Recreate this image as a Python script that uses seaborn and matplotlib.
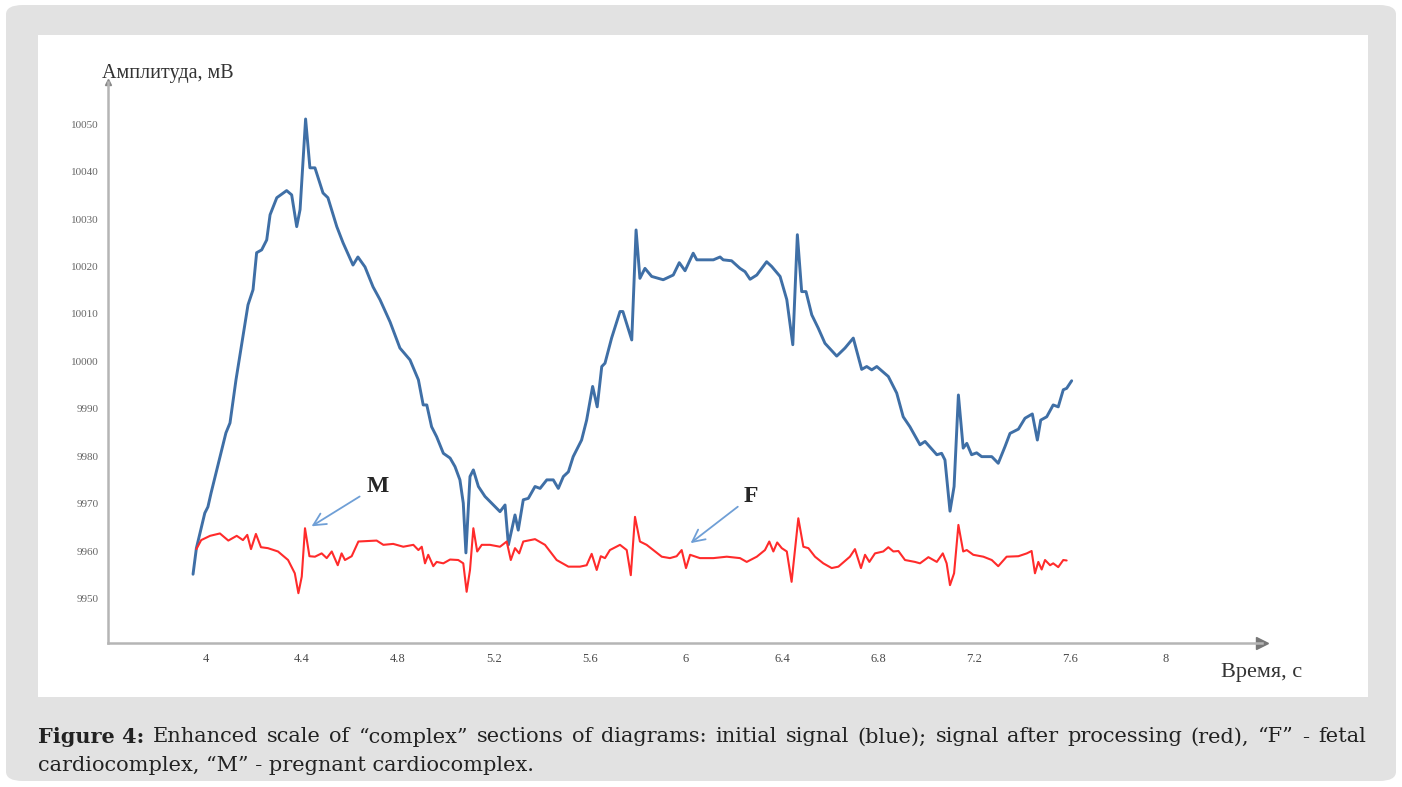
import numpy as np
import pandas as pd
import matplotlib.pyplot as plt
import seaborn as sns
from matplotlib.patches import FancyBboxPatch, Rectangle

# initial signal (blue)
blue_t = [3.946, 3.960, 3.995, 4.008, 4.021, 4.058, 4.083, 4.100, 4.125, 4.175,
          4.196, 4.211, 4.232, 4.253, 4.267, 4.295, 4.336, 4.357, 4.378, 4.392,
          4.415, 4.433, 4.454, 4.4875, 4.508, 4.545, 4.571, 4.6125, 4.633, 4.6625,
          4.696, 4.725, 4.767, 4.808, 4.850, 4.885, 4.905, 4.920, 4.940, 4.961,
          4.989, 5.017, 5.0375, 5.058, 5.072, 5.083, 5.100, 5.114, 5.135, 5.1625,
          5.190, 5.225, 5.246, 5.260, 5.2875, 5.301, 5.322, 5.343, 5.371, 5.392,
          5.420, 5.447, 5.468, 5.489, 5.510, 5.530, 5.565, 5.586, 5.611, 5.630,
          5.649, 5.6625, 5.690, 5.725, 5.737, 5.774, 5.792, 5.808, 5.829, 5.857,
          5.905, 5.947, 5.972, 5.996, 6.030, 6.045, 6.114, 6.142, 6.155, 6.190,
          6.225, 6.246, 6.267, 6.295, 6.336, 6.357, 6.392, 6.420, 6.445, 6.464,
          6.482, 6.500, 6.524, 6.551, 6.579, 6.628, 6.6625, 6.697, 6.732, 6.753,
          6.774, 6.795, 6.843, 6.878, 6.905, 6.933, 6.975, 6.996, 7.045, 7.065,
          7.079, 7.100, 7.117, 7.135, 7.155, 7.170, 7.190, 7.211, 7.232, 7.274,
          7.301, 7.329, 7.350, 7.385, 7.4125, 7.443, 7.464, 7.478, 7.503, 7.530,
          7.551, 7.572, 7.586, 7.607]
blue_v = [9955.1, 9960.6, 9968.0, 9969.3, 9972.2, 9979.8, 9984.9, 9987.0, 9996.1, 10011.9,
          10015.1, 10022.9, 10023.5, 10025.6, 10030.9, 10034.5, 10036.0, 10035.1, 10028.4, 10032.0,
          10051.1, 10040.8, 10040.8, 10035.5, 10034.5, 10028.4, 10025.0, 10020.3, 10022.0, 10019.9,
          10015.7, 10013.0, 10008.3, 10002.8, 10000.3, 9996.1, 9990.8, 9990.8, 9986.2, 9984.1,
          9980.6, 9979.6, 9977.8, 9975.0, 9970.1, 9959.6, 9975.7, 9977.1, 9973.6, 9971.5,
          9970.1, 9968.3, 9969.7, 9961.3, 9967.6, 9964.4, 9970.8, 9971.1, 9973.6, 9973.2,
          9975.0, 9975.0, 9973.2, 9975.7, 9976.7, 9979.9, 9983.4, 9987.6, 9994.7, 9990.4,
          9998.9, 9999.6, 10004.9, 10010.5, 10010.5, 10004.5, 10027.7, 10017.5, 10019.6, 10017.9,
          10017.2, 10018.2, 10020.8, 10019.1, 10022.8, 10021.4, 10021.4, 10022.0, 10021.4, 10021.2,
          10019.6, 10018.9, 10017.3, 10018.2, 10021.0, 10020.0, 10017.9, 10013.0, 10003.5, 10026.7,
          10014.7, 10014.7, 10009.8, 10007.0, 10003.8, 10001.1, 10002.8, 10004.9, 9998.3, 9998.9,
          9998.2, 9998.9, 9996.8, 9993.3, 9988.3, 9986.2, 9982.4, 9983.1, 9980.3, 9980.6,
          9979.2, 9968.4, 9973.6, 9992.9, 9981.7, 9982.7, 9980.3, 9980.7, 9979.9, 9979.9,
          9978.5, 9982.0, 9984.8, 9985.7, 9988.0, 9988.9, 9983.4, 9987.6, 9988.3, 9990.8,
          9990.4, 9994.0, 9994.3, 9995.9]

# signal after processing (red)
red_t = [3.960, 3.980, 3.996, 4.017, 4.058, 4.093, 4.128, 4.154, 4.172, 4.1875,
         4.208, 4.229, 4.258, 4.300, 4.342, 4.370, 4.385, 4.399, 4.4125, 4.431,
         4.454, 4.482, 4.503, 4.524, 4.549, 4.565, 4.579, 4.607, 4.635, 4.711,
         4.739, 4.780, 4.822, 4.864, 4.885, 4.899, 4.9125, 4.926, 4.947, 4.961,
         4.989, 5.017, 5.051, 5.072, 5.086, 5.100, 5.114, 5.130, 5.149, 5.183,
         5.225, 5.253, 5.270, 5.2875, 5.305, 5.322, 5.371, 5.4125, 5.461, 5.510,
         5.558, 5.586, 5.607, 5.628, 5.645, 5.6625, 5.683, 5.725, 5.753, 5.770,
         5.7875, 5.808, 5.836, 5.864, 5.899, 5.933, 5.961, 5.982, 6.000, 6.017,
         6.058, 6.114, 6.170, 6.225, 6.253, 6.295, 6.329, 6.347, 6.364, 6.380,
         6.399, 6.420, 6.440, 6.468, 6.489, 6.510, 6.5375, 6.572, 6.607, 6.635,
         6.683, 6.704, 6.729, 6.746, 6.764, 6.7875, 6.822, 6.843, 6.864, 6.885,
         6.9125, 6.954, 6.975, 7.010, 7.045, 7.070, 7.086, 7.100, 7.117, 7.135,
         7.155, 7.170, 7.197, 7.239, 7.274, 7.301, 7.336, 7.385, 7.420, 7.440,
         7.454, 7.468, 7.482, 7.496, 7.517, 7.530, 7.551, 7.572, 7.586]
red_v = [9960.4, 9962.3, 9962.7, 9963.2, 9963.7, 9962.2, 9963.2, 9962.3, 9963.4, 9960.4,
         9963.6, 9960.8, 9960.6, 9959.9, 9958.1, 9955.3, 9951.1, 9954.6, 9964.8, 9958.9,
         9958.8, 9959.5, 9958.5, 9959.9, 9957.0, 9959.5, 9958.1, 9958.9, 9962.0, 9962.2,
         9961.3, 9961.5, 9960.9, 9961.3, 9960.2, 9960.9, 9957.4, 9959.2, 9956.8, 9957.7,
         9957.4, 9958.2, 9958.1, 9957.4, 9951.4, 9956.0, 9964.8, 9959.9, 9961.3, 9961.3,
         9960.9, 9962.0, 9958.1, 9960.6, 9959.5, 9962.0, 9962.5, 9961.3, 9958.1, 9956.7,
         9956.7, 9957.0, 9959.4, 9956.0, 9958.9, 9958.5, 9960.2, 9961.3, 9960.2, 9954.9,
         9967.2, 9962.0, 9961.3, 9960.2, 9958.8, 9958.5, 9958.9, 9960.2, 9956.4, 9959.2,
         9958.5, 9958.5, 9958.8, 9958.5, 9957.7, 9958.8, 9960.2, 9962.0, 9959.9, 9961.8,
         9960.6, 9959.9, 9953.5, 9966.9, 9960.9, 9960.6, 9958.8, 9957.4, 9956.4, 9956.7,
         9958.8, 9960.4, 9956.4, 9959.2, 9957.7, 9959.5, 9959.9, 9960.8, 9959.9, 9960.0,
         9958.1, 9957.7, 9957.4, 9958.7, 9957.7, 9959.5, 9957.4, 9952.8, 9955.3, 9965.5,
         9959.9, 9960.2, 9959.2, 9958.8, 9958.1, 9956.8, 9958.8, 9958.9, 9959.5, 9960.0,
         9955.3, 9957.7, 9956.1, 9958.1, 9957.0, 9957.4, 9956.6, 9958.1, 9958.0]

x_ticks = [4, 4.4, 4.8, 5.2, 5.6, 6, 6.4, 6.8, 7.2, 7.6, 8]
x_tick_labels = ["4", "4.4", "4.8", "5.2", "5.6", "6", "6.4", "6.8", "7.2", "7.6", "8"]
y_ticks = [9950, 9960, 9970, 9980, 9990, 10000, 10010, 10020, 10030, 10040, 10050]

caption_bold = "Figure 4:"
caption_rest = ("Enhanced scale of \u201ccomplex\u201d sections of diagrams: initial signal (blue); "
                "signal after processing (red), \u201cF\u201d - fetal")
caption_line2 = "cardiocomplex, \u201cM\u201d - pregnant cardiocomplex."

sns.set_style("white")
plt.rcParams["font.family"] = ["Liberation Serif", "DejaVu Serif"]

W, H = 1402, 787
fig = plt.figure(figsize=(W / 100, H / 100), dpi=100)
fig.patch.set_facecolor("white")

# grey card with rounded corners + white plot panel
fig.patches.append(FancyBboxPatch((6 / W, 6 / H), 1390 / W, 776 / H,
                                  boxstyle="round,pad=0,rounding_size=0.012",
                                  transform=fig.transFigure, facecolor="#e2e2e2",
                                  edgecolor="none", zorder=0))
fig.patches.append(Rectangle((38 / W, 1 - 697 / H), 1330 / W, 662 / H,
                             transform=fig.transFigure, facecolor="white",
                             edgecolor="none", zorder=1))

ax = fig.add_axes([108 / W, 1 - 643 / H, (1262 - 108) / W, (643 - 82) / H])
ax.set_zorder(3)
ax.set_facecolor("none")

df_blue = pd.DataFrame({"t": blue_t, "v": blue_v})
df_red = pd.DataFrame({"t": red_t, "v": red_v})
sns.lineplot(data=df_blue, x="t", y="v", ax=ax, color="#3f6fa6", lw=2.1,
             sort=False, estimator=None)
sns.lineplot(data=df_red, x="t", y="v", ax=ax, color="#ff2b2b", lw=1.5,
             sort=False, estimator=None)

ax.set_xlim(3.5917, 8.4)
ax.set_ylim(9940.6, 10058.9)
ax.set_xticks(x_ticks)
ax.set_xticklabels(x_tick_labels)
ax.set_yticks(y_ticks)
ax.set_xlabel("")
ax.set_ylabel("")
sns.despine(ax=ax)
for s in ["left", "bottom"]:
    ax.spines[s].set_color("#b5b5b5")
    ax.spines[s].set_linewidth(1.8)
ax.tick_params(axis="x", direction="inout", length=5, width=1, color="#b5b5b5",
               labelsize=9, labelcolor="#4a4a4a", pad=5)
ax.tick_params(axis="y", direction="out", length=4, width=1, color="#b5b5b5",
               labelsize=8, labelcolor="#666666", pad=3)

# axis arrows
ax.plot([1], [0], marker=">", ms=8, color="#777777", transform=ax.transAxes, clip_on=False)
ax.plot([0], [1], marker="^", ms=4, color="#888888", transform=ax.transAxes, clip_on=False)

ax.text(-0.005, 1.008, "Амплитуда, мВ", transform=ax.transAxes, fontsize=14.5,
        color="#333333", ha="left", va="baseline")
ax.text(1.0, -0.053, "Время, с", transform=ax.transAxes, fontsize=16,
        color="#333333", ha="center", va="center")

# M and F markers
arrow = dict(arrowstyle="->", color="#6f9fd6", lw=1.3, mutation_scale=22)
ax.annotate("", xy=(4.43, 9964.9), xytext=(4.65, 9971.8), arrowprops=arrow)
ax.text(4.717, 9973.5, "M", fontsize=17, fontweight="bold", ha="center", va="center")
ax.annotate("", xy=(6.01, 9961.3), xytext=(6.225, 9969.7), arrowprops=arrow)
ax.text(6.27, 9971.4, "F", fontsize=17, fontweight="bold", ha="center", va="center")

# caption, first line justified between the panel edges
cap_font = ["DejaVu Serif"]
cap_size = 15
renderer = fig.canvas.get_renderer()
words = [(caption_bold, "bold")] + [(w, "normal") for w in caption_rest.split(" ")]
left_px, right_px = 38, 1366
items = []
for w, weight in words:
    t = fig.text(0, 1 - 737 / H, w, fontsize=cap_size, fontweight=weight, family=cap_font,
                 color="#222222", va="center", ha="left")
    items.append((t, t.get_window_extent(renderer=renderer).width))
gap = (right_px - left_px - sum(wd for _, wd in items)) / (len(items) - 1)
x = left_px
for t, wd in items:
    t.set_x(x / W)
    x += wd + gap
fig.text(38 / W, 1 - 765 / H, caption_line2, fontsize=cap_size, family=cap_font,
         color="#222222", va="center", ha="left")

plt.savefig("out.png", dpi=100)
